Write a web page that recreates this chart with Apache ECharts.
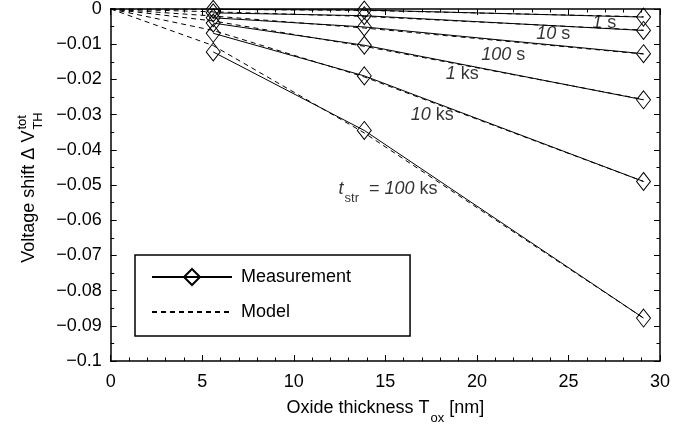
<!DOCTYPE html>
<html>
<head>
<meta charset="utf-8">
<script src="https://cdn.jsdelivr.net/npm/echarts@6/dist/echarts.min.js"></script>
<style>
html,body{margin:0;padding:0;background:#fff}
#main{width:694px;height:430px}
</style>
</head>
<body>
<div id="main"></div>
<script>
// oxide thickness of the measured devices [nm]
var thickness = [5.6, 13.85, 29.1];

// measured total shift, one array per stress time
var meas1s   = [-0.0001, -0.0003, -0.0023];
var meas10s  = [-0.0011, -0.0019, -0.0061];
var meas100s = [-0.0025, -0.0051, -0.0127];
var meas1ks  = [-0.0040, -0.0103, -0.0258];
var meas10ks = [-0.0069, -0.0190, -0.0490];
var meas100ks= [-0.0122, -0.0345, -0.0878];

// model curves (dashed)
var modelX     = [0, 5.6, 13.85, 29.1];
var model1s    = [0, -0.0001, -0.0004, -0.0022];
var model10s   = [0, -0.0008, -0.0021, -0.0060];
var model100s  = [0, -0.0020, -0.0054, -0.0128];
var model1ks   = [0, -0.0034, -0.0106, -0.0257];
var model10ks  = [0, -0.0061, -0.0193, -0.0490];
var model100ks = [0, -0.0104, -0.0352, -0.0878];

// stress time annotations (data coords)
var noteX    = [26.96, 24.17, 21.44, 19.20, 17.56, 15.15];
var noteY    = [-0.0040, -0.0070, -0.0132, -0.0185, -0.0301, -0.0511];
var noteText = ['{i|1}{n| s}', '{i|10}{n| s}', '{i|100}{n| s}', '{i|1}{n| ks}', '{i|10}{n| ks}',
                '{i|t}{sb|str}{n|  = }{i|100}{n| ks}'];

var FONT = '"Liberation Sans", Arial, Helvetica, sans-serif';
var measSets  = [meas1s, meas10s, meas100s, meas1ks, meas10ks, meas100ks];
var modelSets = [model1s, model10s, model100s, model1ks, model10ks, model100ks];

var chart = echarts.init(document.getElementById('main'));

function fmtY(v){
    if (Math.abs(v) < 1e-9) return '0';
    return '\u2212' + parseFloat(Math.abs(v).toFixed(2)).toString();
}

function makeAxis(pos, min, max, interval, minorSplit, showLabel){
    return {
        type: 'value',
        position: pos,
        min: min, max: max, interval: interval,
        axisLine: {show: true, onZero: false, lineStyle: {color: '#000', width: 1.5}},
        axisTick: {show: true, inside: true, length: 6, lineStyle: {color: '#000', width: 1}},
        minorTick: {show: true, splitNumber: minorSplit, length: 3.5, lineStyle: {color: '#000', width: 1}},
        splitLine: {show: false},
        minorSplitLine: {show: false},
        axisLabel: {show: showLabel, color: '#000', fontSize: 18, fontFamily: FONT}
    };
}

var series = [];
modelSets.forEach(function(arr){
    series.push({
        name: 'Model', type: 'line', symbol: 'none', silent: true, clip: false,
        data: modelX.map(function(x, i){ return [x, arr[i]]; }),
        lineStyle: {color: '#000', width: 1, type: [5, 4]},
        itemStyle: {color: '#000'},
        z: 2
    });
});
measSets.forEach(function(arr){
    series.push({
        name: 'Measurement', type: 'line', symbol: 'diamond', symbolSize: [14, 18],
        showSymbol: true, silent: true, clip: false,
        data: thickness.map(function(x, i){ return [x, arr[i]]; }),
        lineStyle: {color: '#000', width: 1},
        itemStyle: {color: 'rgba(255,255,255,0)', borderColor: '#000', borderWidth: 1},
        z: 3
    });
});
series.push({
    type: 'scatter', silent: true, symbolSize: 1, clip: false,
    itemStyle: {color: 'rgba(0,0,0,0)'},
    data: noteX.map(function(x, i){ return [x, noteY[i], i]; }),
    label: {
        show: true, position: 'inside', color: '#000',
        formatter: function(p){ return noteText[p.data[2]]; },
        rich: {
            i: {fontSize: 18, fontStyle: 'italic', fontFamily: FONT, color: '#000'},
            n: {fontSize: 18, fontFamily: FONT, color: '#000'},
            sb: {fontSize: 13, fontFamily: FONT, color: '#000', padding: [20, 0, 0, 1]}
        }
    },
    z: 5
});

var xMain = makeAxis('bottom', 0, 30, 5, 5, true);
xMain.axisLabel.margin = 12;
xMain.name = '{n|Oxide thickness T}{sb|ox}{n| [nm]}';
xMain.nameLocation = 'middle';
xMain.nameGap = 31;
xMain.nameTextStyle = {
    rich: {
        n: {fontSize: 18, fontFamily: FONT, color: '#000'},
        sb: {fontSize: 13, fontFamily: FONT, color: '#000', padding: [20, 0, 0, 1]}
    }
};
var yMain = makeAxis('left', -0.1, 0, 0.01, 2, true);
yMain.axisLabel.margin = 9;
yMain.axisLabel.formatter = fmtY;

// y axis title with stacked super/subscript
var ctx = document.createElement('canvas').getContext('2d');
ctx.font = '18px ' + FONT;
var yTitle = 'Voltage shift \u0394 V';
var wMain = ctx.measureText(yTitle).width;
ctx.font = '13px ' + FONT;
var wSup = Math.max(ctx.measureText('tot').width, ctx.measureText('TH').width);
var wAll = wMain + 1 + wSup;

var option = {
    animation: false,
    backgroundColor: '#fff',
    textStyle: {fontFamily: FONT},
    grid: {left: 110.7, right: 34, top: 5, bottom: 69, containLabel: false},
    xAxis: [xMain, makeAxis('top', 0, 30, 5, 5, false)],
    yAxis: [yMain, makeAxis('right', -0.1, 0, 0.01, 2, false)],
    legend: {
        data: [
            {name: 'Measurement'},
            {name: 'Model', itemStyle: {color: 'rgba(0,0,0,0)', borderColor: 'rgba(0,0,0,0)', borderWidth: 0}}
        ],
        orient: 'vertical',
        left: 135, top: 255,
        itemWidth: 80, itemHeight: 20, itemGap: 17,
        padding: [13, 59, 15, 16],
        borderColor: '#000', borderWidth: 1.5,
        selectedMode: false,
        textStyle: {fontSize: 18, color: '#000', fontFamily: FONT, padding: [0, 0, 0, 4]}
    },
    graphic: [{
        type: 'group',
        x: 29, y: 187.5,
        rotation: Math.PI / 2,
        children: [
            {type: 'text', x: -wAll / 2, y: 0,
             style: {text: yTitle, fontSize: 18, fontFamily: FONT, fill: '#000', verticalAlign: 'middle', align: 'left'}},
            {type: 'text', x: -wAll / 2 + wMain + 1, y: -7,
             style: {text: 'tot', fontSize: 13, fontFamily: FONT, fill: '#000', verticalAlign: 'middle', align: 'left'}},
            {type: 'text', x: -wAll / 2 + wMain + 1, y: 9,
             style: {text: 'TH', fontSize: 13, fontFamily: FONT, fill: '#000', verticalAlign: 'middle', align: 'left'}}
        ]
    }],
    series: series
};

chart.setOption(option);
</script>
</body>
</html>
